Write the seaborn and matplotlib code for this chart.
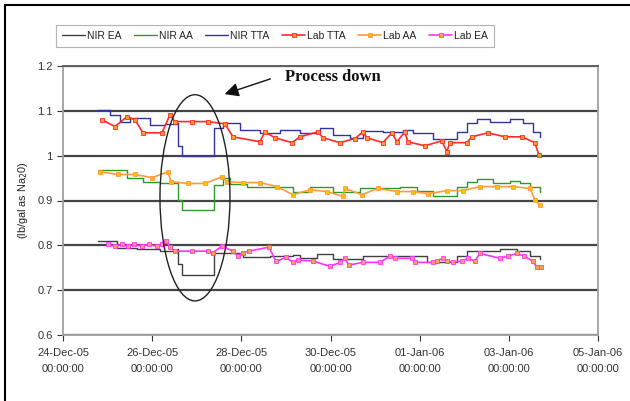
import numpy as np
import pandas as pd
import matplotlib
matplotlib.use("Agg")
import matplotlib.pyplot as plt
import matplotlib.dates as mdates
import matplotlib.ticker as mticker
import seaborn as sns
from matplotlib.patches import Ellipse, Rectangle

START = pd.Timestamp("2005-12-24")

# ---- data (days after 24-Dec-05 00:00, value) ----
nir_tta_t = [0.785, 1.054, 1.278, 1.502, 1.726, 1.951, 2.287, 2.556, 2.578, 2.668, 3.386, 3.587, 3.969,
             4.417, 4.865, 5.314, 5.762, 6.054, 6.435, 6.726, 7.175, 7.623, 7.848, 8.296, 8.520, 8.834,
             9.058, 9.283, 9.574, 10.022, 10.314, 10.538, 10.695]
nir_tta_v = [1.102, 1.091, 1.076, 1.084, 1.084, 1.069, 1.071, 1.073, 1.021, 1.000, 1.062, 1.073, 1.058,
             1.051, 1.058, 1.051, 1.062, 1.047, 1.040, 1.056, 1.053, 1.058, 1.051, 1.038, 1.038, 1.053,
             1.073, 1.082, 1.076, 1.082, 1.073, 1.053, 1.042]

nir_aa_t = [0.785, 1.435, 1.794, 2.175, 2.556, 2.578, 2.668, 3.386, 3.587, 3.744, 4.126, 4.798, 5.157,
            5.538, 5.695, 6.054, 6.368, 6.659, 7.175, 7.556, 7.937, 8.296, 8.520, 8.834, 9.058, 9.283,
            9.641, 10.022, 10.247, 10.471, 10.695]
nir_aa_v = [0.967, 0.951, 0.942, 0.940, 0.940, 0.902, 0.878, 0.935, 0.951, 0.936, 0.929, 0.929, 0.920,
            0.929, 0.931, 0.920, 0.918, 0.927, 0.927, 0.929, 0.922, 0.911, 0.911, 0.931, 0.942, 0.947,
            0.940, 0.944, 0.940, 0.929, 0.918]

nir_ea_t = [0.785, 1.211, 1.659, 2.175, 2.556, 2.578, 2.668, 3.386, 3.677, 4.036, 4.641, 5.157, 5.314,
            5.695, 6.054, 6.368, 6.726, 7.399, 7.780, 8.161, 8.453, 8.834, 9.058, 9.350, 9.798, 10.179,
            10.471, 10.695]
nir_ea_v = [0.809, 0.793, 0.791, 0.787, 0.791, 0.758, 0.733, 0.784, 0.784, 0.773, 0.776, 0.778, 0.771,
            0.780, 0.769, 0.769, 0.776, 0.776, 0.776, 0.762, 0.762, 0.776, 0.787, 0.787, 0.791, 0.787,
            0.776, 0.769]

lab_tta_t = [0.874, 1.166, 1.435, 1.614, 1.794, 2.220, 2.399, 2.511, 2.892, 3.251, 3.632, 3.812, 4.417,
             4.529, 4.753, 5.135, 5.314, 5.717, 5.830, 6.211, 6.547, 6.726, 6.816, 7.175, 7.377, 7.489,
             7.668, 7.735, 8.117, 8.498, 8.610, 8.677, 9.058, 9.170, 9.529, 9.910, 10.291, 10.583, 10.673]
lab_tta_v = [1.080, 1.065, 1.087, 1.080, 1.051, 1.051, 1.091, 1.076, 1.076, 1.076, 1.071, 1.042, 1.031,
             1.053, 1.040, 1.029, 1.042, 1.053, 1.040, 1.029, 1.038, 1.053, 1.040, 1.029, 1.051, 1.031,
             1.053, 1.031, 1.022, 1.033, 1.009, 1.029, 1.029, 1.042, 1.051, 1.042, 1.042, 1.029, 1.002]

lab_aa_t = [0.830, 1.233, 1.614, 1.996, 2.354, 2.422, 2.803, 3.184, 3.565, 3.677, 4.036, 4.417, 4.798,
            5.157, 5.538, 5.919, 6.278, 6.323, 6.704, 7.063, 7.489, 7.848, 8.184, 8.610, 8.969, 9.350,
            9.731, 10.090, 10.471, 10.583, 10.695]
lab_aa_v = [0.964, 0.958, 0.958, 0.951, 0.964, 0.942, 0.938, 0.938, 0.953, 0.942, 0.940, 0.940, 0.931,
            0.913, 0.924, 0.920, 0.909, 0.927, 0.913, 0.927, 0.920, 0.920, 0.915, 0.922, 0.922, 0.931,
            0.931, 0.931, 0.927, 0.902, 0.889]

lab_ea_t = [1.009, 1.166, 1.323, 1.457, 1.592, 1.771, 1.928, 2.108, 2.220, 2.309, 2.399, 2.511, 2.892,
            3.251, 3.363, 3.565, 3.812, 3.924, 4.036, 4.170, 4.619, 4.776, 5.000, 5.157, 5.269, 5.605,
            5.987, 6.211, 6.323, 6.413, 6.726, 7.108, 7.332, 7.444, 7.825, 7.892, 8.296, 8.386, 8.520,
            8.610, 8.744, 8.946, 9.081, 9.238, 9.350, 9.798, 9.978, 10.179, 10.336, 10.538, 10.628, 10.717]
lab_ea_v = [0.802, 0.798, 0.802, 0.798, 0.802, 0.798, 0.802, 0.798, 0.802, 0.809, 0.796, 0.787, 0.787,
            0.787, 0.784, 0.798, 0.787, 0.776, 0.784, 0.787, 0.796, 0.764, 0.773, 0.762, 0.767, 0.765,
            0.753, 0.762, 0.771, 0.756, 0.762, 0.762, 0.776, 0.771, 0.771, 0.762, 0.762, 0.765, 0.771,
            0.765, 0.762, 0.765, 0.771, 0.765, 0.782, 0.771, 0.776, 0.782, 0.776, 0.765, 0.751, 0.751]

y_ticks = [0.6, 0.7, 0.8, 0.9, 1.0, 1.1, 1.2]
x_tick_dates = pd.date_range("2005-12-24", "2006-01-05", freq="2D")


def to_df(t, v):
    return pd.DataFrame({"time": START + pd.to_timedelta(np.array(t), unit="D"), "value": v})


sns.set_theme(style="white")
plt.rcParams['font.family'] = ['Liberation Sans', 'DejaVu Sans']

fig = plt.figure(figsize=(6.3, 4.01), dpi=100)
ax = fig.add_axes([63 / 630, 1 - 335 / 401, (598 - 63) / 630, (335 - 66) / 401])

nir_specs = [("NIR EA", nir_ea_t, nir_ea_v, "#404040"),
             ("NIR AA", nir_aa_t, nir_aa_v, "#2e9a2e"),
             ("NIR TTA", nir_tta_t, nir_tta_v, "#3333a0")]
for name, t, v, c in nir_specs:
    sns.lineplot(data=to_df(t, v), x="time", y="value", ax=ax, color=c, lw=1.0,
                 drawstyle="steps-post", label=name, estimator=None, zorder=3)

lab_specs = [("Lab TTA", lab_tta_t, lab_tta_v, "#ff2a2a", "#ff9a30"),
             ("Lab AA", lab_aa_t, lab_aa_v, "#ff9a40", "#ffc000"),
             ("Lab EA", lab_ea_t, lab_ea_v, "#ff33ff", "#ff9a60")]
for name, t, v, c, mf in lab_specs:
    sns.lineplot(data=to_df(t, v), x="time", y="value", ax=ax, color=c, lw=1.2,
                 marker="s", markersize=2.6, markerfacecolor=mf, markeredgecolor=c,
                 markeredgewidth=0.6, label=name, estimator=None, zorder=4)

# axes
ax.set_xlim(START, pd.Timestamp("2006-01-05"))
ax.set_ylim(0.6, 1.2)
ax.set_yticks(y_ticks)
ax.yaxis.set_major_formatter(mticker.FuncFormatter(lambda v, p: "%g" % round(v, 2)))
ax.set_xticks(x_tick_dates)
ax.xaxis.set_major_formatter(mdates.DateFormatter("%d-%b-%y\n%H:%M:%S"))
ax.set_xlabel("")
ax.set_ylabel("(lb/gal as Na$_2$0)", fontsize=7.8, color="#222222", labelpad=5)
ax.tick_params(axis="both", labelsize=8, colors="#333333", length=4, width=0.8,
               direction="out", left=True, bottom=True)
ax.tick_params(axis="x", pad=5)
for lbl in ax.get_xticklabels():
    lbl.set_linespacing(1.75)
ax.yaxis.grid(True, color="#454545", lw=1.6)
ax.xaxis.grid(False)
ax.set_axisbelow(True)
for s in ["left", "bottom", "right"]:
    ax.spines[s].set_color("#a0a0a0")
    ax.spines[s].set_linewidth(1.3)
ax.spines["top"].set_color("#606060")
ax.spines["top"].set_linewidth(1.4)
ax.spines["bottom"].set_zorder(5)

# ellipse highlight
xc = mdates.date2num(START + pd.Timedelta(days=2.96))
ax.add_patch(Ellipse((xc, 0.906), width=1.57, height=0.46, fill=False,
                     ec="#222222", lw=1.0, zorder=6))

# annotation
fig.text(285 / 630, 1 - 77 / 401, "Process down", fontsize=12, fontweight="bold",
         family=["Liberation Serif", "DejaVu Serif"], va="center", ha="left", color="#111111")
ax.annotate("", xy=(222 / 630, 1 - 95 / 401), xytext=(273 / 630, 1 - 78 / 401),
            xycoords="figure fraction", textcoords="figure fraction",
            arrowprops=dict(arrowstyle="-|>,head_length=0.7,head_width=0.35",
                            color="#111111", lw=1.0))

# legend
leg = ax.legend(loc="center", bbox_to_anchor=(275 / 630, 1 - 36 / 401),
                bbox_transform=fig.transFigure, ncol=6, fontsize=7.5, frameon=True,
                fancybox=False, handlelength=2.2, handletextpad=0.2, columnspacing=1.2,
                borderpad=0.6)
leg.get_frame().set_edgecolor("#a0a0a0")
leg.get_frame().set_linewidth(0.8)
for txt in leg.get_texts():
    txt.set_color("#222222")

# outer frame
fig.patches.append(Rectangle((5 / 630, -0.05), 1.2, 1 - 5 / 401 + 0.05,
                             transform=fig.transFigure, fill=False, ec="black", lw=1.5))

fig.savefig("out.png", dpi=100)
